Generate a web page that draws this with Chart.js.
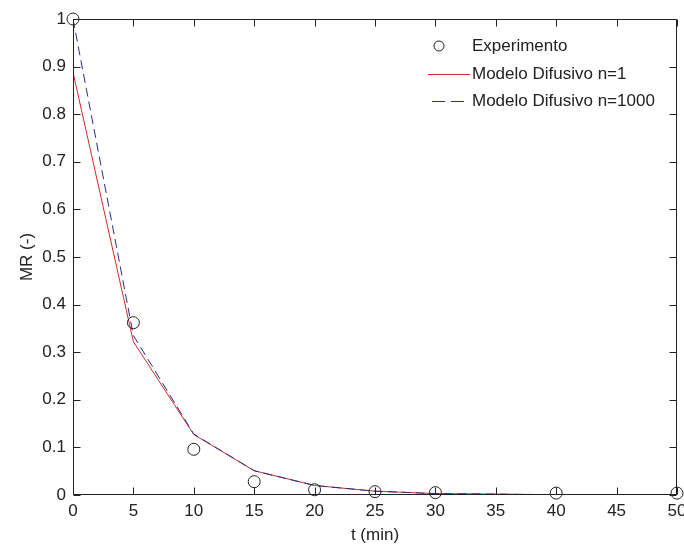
<!DOCTYPE html>
<html>
<head>
<meta charset="utf-8">
<script src="https://cdn.jsdelivr.net/npm/chart.js@4/dist/chart.umd.min.js"></script>
<style>
    body { margin: 0; background: #fff; }
    #wrap { position: relative; width: 684px; height: 546px; }
    #legend { position: absolute; left: 426px; top: 35px; font: 17px "Liberation Sans", Arial, sans-serif; color: #222; }
    .row { position: relative; height: 27.5px; line-height: 22px; padding-left: 46px; white-space: nowrap; }
    .row svg { position: absolute; left: 2px; top: 1px; }
</style>
</head>
<body>
<div id="wrap">
    <canvas id="chart" width="684" height="546"></canvas>
    <div id="legend">
        <div class="row"><svg width="44" height="20"><circle cx="11" cy="10" r="5" fill="none" stroke="#222" stroke-width="1"/></svg>Experimento</div>
        <div class="row"><svg width="44" height="20"><line x1="0" y1="10.5" x2="42" y2="10.5" stroke="#d42a2a" stroke-width="1"/></svg>Modelo Difusivo n=1</div>
        <div class="row"><svg width="44" height="20"><line x1="4" y1="10.5" x2="42" y2="10.5" stroke="#2a2a8a" stroke-width="1" stroke-dasharray="13 6"/></svg>Modelo Difusivo n=1000</div>
    </div>
</div>
<script>
// Time points (min) and moisture ratio
const tPoints = [0, 5, 10, 15, 20, 25, 30, 40, 50];
const mrExperiment = [1.0, 0.362, 0.096, 0.028, 0.011, 0.007, 0.005, 0.004, 0.004];
const mrModelN1 = [0.888, 0.322, 0.127, 0.051, 0.02, 0.008, 0.003, 0.0006, 0.0002];
const mrModelN1000 = [1.0, 0.335, 0.128, 0.051, 0.02, 0.008, 0.003, 0.0006, 0.0002];

const xTicks = [0, 5, 10, 15, 20, 25, 30, 35, 40, 45, 50];
const yTicks = [0, 0.1, 0.2, 0.3, 0.4, 0.5, 0.6, 0.7, 0.8, 0.9, 1];

const axisColor = '#222';
const fontFamily = '"Liberation Sans", Arial, sans-serif';

const toXY = (vals) => vals.map((v, i) => ({ x: tPoints[i], y: v }));

// MATLAB-style box with inward ticks on all four sides
const frameTicks = {
    id: 'frameTicks',
    afterDraw(chart) {
        const { ctx, chartArea: a, scales: { x, y } } = chart;
        const L = Math.round(a.left) + 0.5, R = Math.round(a.right) - 0.5;
        const T = Math.round(a.top) + 0.5, B = Math.round(a.bottom) - 0.5;
        ctx.save();
        ctx.strokeStyle = axisColor;
        ctx.lineWidth = 1;
        ctx.beginPath();
        ctx.rect(L, T, R - L, B - T);
        xTicks.forEach(v => {
            const px = Math.round(x.getPixelForValue(v)) + 0.5;
            ctx.moveTo(px, B); ctx.lineTo(px, B - 7);
            ctx.moveTo(px, T); ctx.lineTo(px, T + 7);
        });
        yTicks.forEach(v => {
            const py = Math.round(y.getPixelForValue(v)) + 0.5;
            ctx.moveTo(L, py); ctx.lineTo(L + 7, py);
            ctx.moveTo(R, py); ctx.lineTo(R - 7, py);
        });
        ctx.stroke();
        ctx.restore();
    }
};

new Chart(document.getElementById('chart'), {
    type: 'line',
    data: {
        datasets: [
            {
                label: 'Experimento',
                data: toXY(mrExperiment),
                showLine: false,
                pointStyle: 'circle',
                pointRadius: 6,
                pointBorderWidth: 1,
                pointBorderColor: '#222',
                pointBackgroundColor: 'rgba(0,0,0,0)',
                clip: false
            },
            {
                label: 'Modelo Difusivo n=1000',
                data: toXY(mrModelN1000),
                borderColor: '#2a2a8a',
                borderWidth: 1,
                borderDash: [9, 5],
                pointRadius: 0,
                tension: 0
            },
            {
                label: 'Modelo Difusivo n=1',
                data: toXY(mrModelN1),
                borderColor: '#d42a2a',
                borderWidth: 1,
                pointRadius: 0,
                tension: 0
            }
        ]
    },
    options: {
        responsive: false,
        animation: false,
        layout: { padding: { top: 19, right: 7, left: 0, bottom: 0 } },
        plugins: { legend: { display: false }, tooltip: { enabled: false } },
        scales: {
            x: {
                type: 'linear',
                min: 0,
                max: 50,
                grid: { display: false, drawTicks: false },
                border: { display: false },
                afterBuildTicks: (s) => { s.ticks = xTicks.map(v => ({ value: v })); },
                afterFit: (s) => { s.height = 51; s.paddingLeft = 0; s.paddingRight = 0; },
                ticks: { padding: 6, color: axisColor, font: { family: fontFamily, size: 17 }, maxRotation: 0 },
                title: { display: true, text: 't (min)', color: axisColor, padding: { top: 0, bottom: 0 }, font: { family: fontFamily, size: 17 } }
            },
            y: {
                type: 'linear',
                min: 0,
                max: 1,
                grid: { display: false, drawTicks: false },
                border: { display: false },
                afterBuildTicks: (s) => { s.ticks = yTicks.map(v => ({ value: v })); },
                afterFit: (s) => { s.width = 73; s.paddingTop = 0; s.paddingBottom = 0; },
                ticks: { padding: 7, color: axisColor, font: { family: fontFamily, size: 17 }, callback: (v) => String(Math.round(v * 10) / 10) },
                title: { display: true, text: 'MR (-)', color: axisColor, padding: { top: 17, bottom: 0 }, font: { family: fontFamily, size: 17 } }
            }
        }
    },
    plugins: [frameTicks]
});
</script>
</body>
</html>
